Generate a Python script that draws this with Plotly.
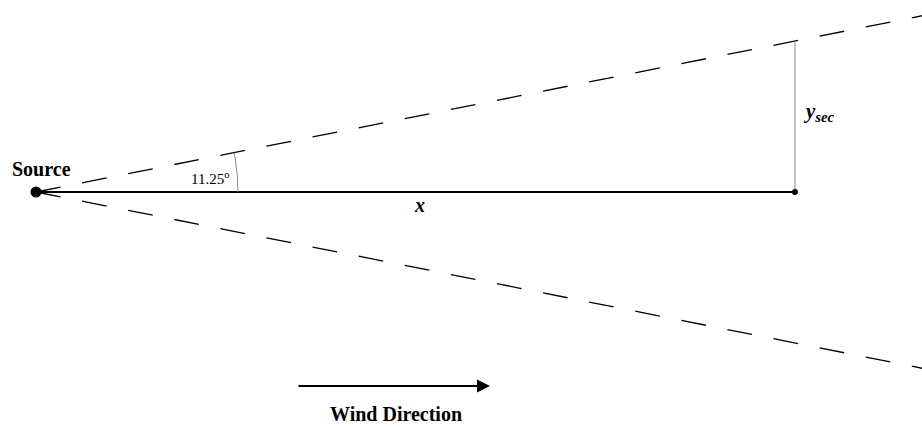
import numpy as np
import plotly.graph_objects as go

# --- diagram values (pixel-like units, y measured upward) ---
source_xy = [36, 236]          # source location
half_angle_deg = 11.25         # sector half-angle
x_length = 759                 # downwind distance x
ray_length = 980               # length of dashed sector edges (runs off the page)
arc_radius = 202               # radius of angle arc
wind_start = [297, 42]
wind_end = [490, 42]

labels = ["Source", "11.25<sup>o</sup>", "x", "y<sub>sec</sub>", "Wind Direction"]
label_x = [41, 210, 419, 819, 396]
label_y = [259, 250, 223, 316, 14]

sx, sy = source_xy
t = np.deg2rad(half_angle_deg)
ex, ey = sx + x_length, sy
ysec_top = sy + x_length * np.tan(t)

fig = go.Figure()
# dashed sector edges
for sgn in (1, -1):
    fig.add_trace(go.Scatter(
        x=[sx, sx + ray_length * np.cos(t)],
        y=[sy, sy + sgn * ray_length * np.sin(t)],
        mode="lines", line=dict(color="black", width=1.3, dash="25px,22px"),
        hoverinfo="skip"))
# x line
fig.add_trace(go.Scatter(x=[sx, ex], y=[sy, ey], mode="lines",
                         line=dict(color="black", width=2.2), hoverinfo="skip"))
# y_sec vertical
fig.add_trace(go.Scatter(x=[ex, ex], y=[ey, ysec_top], mode="lines",
                         line=dict(color="#888888", width=1), hoverinfo="skip"))
# angle arc
ang = np.linspace(0, t, 30)
fig.add_trace(go.Scatter(x=sx + arc_radius * np.cos(ang), y=sy + arc_radius * np.sin(ang),
                         mode="lines", line=dict(color="#888888", width=1), hoverinfo="skip"))
# points
fig.add_trace(go.Scatter(x=[sx], y=[sy], mode="markers",
                         marker=dict(color="black", size=11), hoverinfo="skip"))
fig.add_trace(go.Scatter(x=[ex], y=[ey], mode="markers",
                         marker=dict(color="black", size=6), hoverinfo="skip"))

# wind direction arrow
fig.add_annotation(x=wind_end[0], y=wind_end[1], ax=wind_start[0], ay=wind_start[1],
                   xref="x", yref="y", axref="x", ayref="y", text="",
                   showarrow=True, arrowhead=2, arrowsize=1.3, arrowwidth=2,
                   arrowcolor="black")

fonts = [
    dict(family="Liberation Serif", size=20, color="black", weight="bold"),
    dict(family="Liberation Serif", size=15, color="black"),
    dict(family="Liberation Serif", size=20, color="black", style="italic", weight="bold"),
    dict(family="Liberation Serif", size=21, color="black", style="italic", weight="bold"),
    dict(family="Liberation Serif", size=20, color="black", weight="bold"),
]
for txt, lx, ly, f in zip(labels, label_x, label_y, fonts):
    fig.add_annotation(x=lx, y=ly, text=txt, showarrow=False, font=f,
                       xref="x", yref="y")

fig.update_layout(
    width=922, height=428, margin=dict(l=0, r=0, t=0, b=0),
    plot_bgcolor="white", paper_bgcolor="white", showlegend=False,
    xaxis=dict(range=[0, 922], visible=False, fixedrange=True),
    yaxis=dict(range=[0, 428], visible=False, fixedrange=True),
)
fig.write_html("out.html", config={"displayModeBar": False, "staticPlot": True},
               post_script="document.body.style.margin='0';document.body.style.overflow='hidden';")
